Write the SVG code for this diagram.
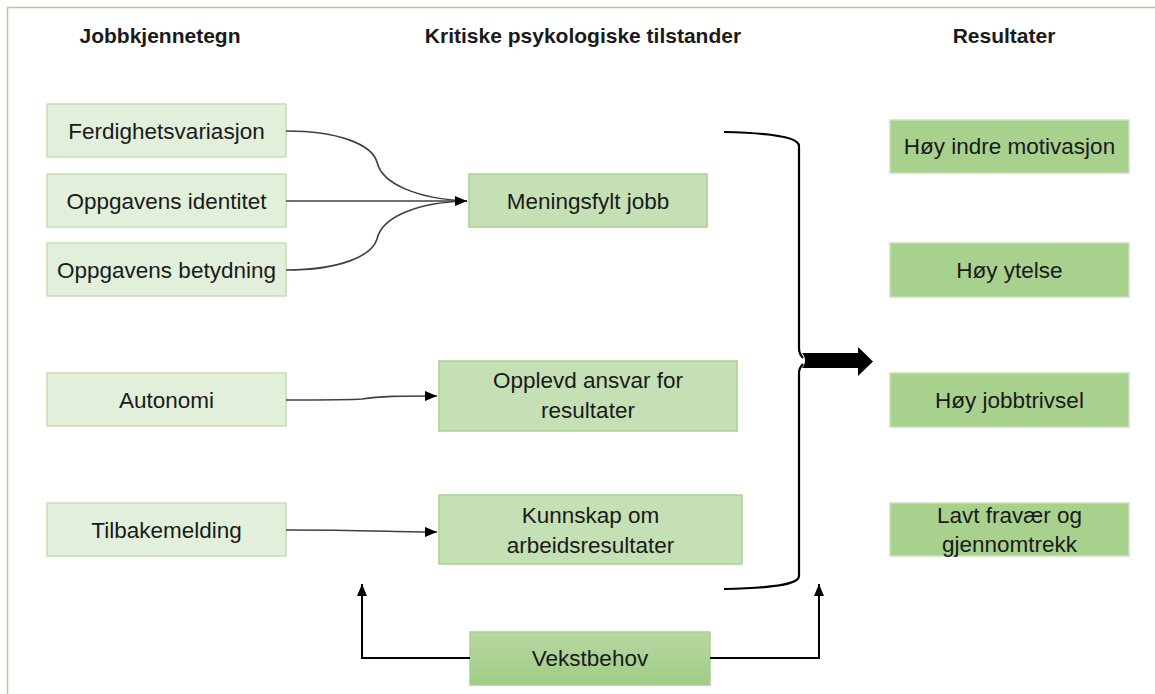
<svg xmlns="http://www.w3.org/2000/svg" width="1155" height="694" viewBox="0 0 1155 694">
<style>
text{font-family:"Liberation Sans",Arial,sans-serif;fill:#1a1a1a;text-anchor:middle}
.h{font-size:21px;font-weight:bold}
.t{font-size:22.5px}
.l rect{fill:#E2EFDA;stroke:#C5E0B4;stroke-width:1.5}
.m rect{fill:#C5E0B4;stroke:#A9D18E;stroke-width:1.5}
.r rect{fill:#A9D18E;stroke:#C9E2BA;stroke-width:1.5}
.c{fill:none;stroke:#404040;stroke-width:1.6}
.b{fill:none;stroke:#000;stroke-width:2.2}
</style>
<defs>
<marker id="ah" viewBox="0 0 12 10" refX="12" refY="5" markerWidth="12" markerHeight="10" markerUnits="userSpaceOnUse" orient="auto"><path d="M0,0 L12,5 L0,10 z" fill="#000"/></marker>
<linearGradient id="vg" x1="0" y1="0" x2="0" y2="1"><stop offset="0" stop-color="#B7D8A2"/><stop offset="1" stop-color="#A0CC86"/></linearGradient>
</defs>
<rect x="7.5" y="7.5" width="1160" height="700" fill="#fff" stroke="#A9D18E" stroke-width="1.5"/>
<g id="headers">
<text class="h" x="160" y="43">Jobbkjennetegn</text>
<text class="h" x="583" y="43">Kritiske psykologiske tilstander</text>
<text class="h" x="1004" y="43">Resultater</text>
</g>
<g id="n-ferdighet" class="l"><rect x="47" y="104" width="239" height="53"/><text class="t" x="166.5" y="138.5">Ferdighetsvariasjon</text></g>
<g id="n-identitet" class="l"><rect x="47" y="174" width="239" height="53"/><text class="t" x="166.5" y="208.5">Oppgavens identitet</text></g>
<g id="n-betydning" class="l"><rect x="47" y="243" width="239" height="53"/><text class="t" x="166.5" y="277.5">Oppgavens betydning</text></g>
<g id="n-autonomi" class="l"><rect x="47" y="373" width="239" height="53"/><text class="t" x="166.5" y="407.5">Autonomi</text></g>
<g id="n-tilbakemelding" class="l"><rect x="47" y="503" width="239" height="53"/><text class="t" x="166.5" y="537.5">Tilbakemelding</text></g>
<g id="n-meningsfylt" class="m"><rect x="469" y="174" width="238" height="53"/><text class="t" x="588" y="208.5">Meningsfylt jobb</text></g>
<g id="n-ansvar" class="m"><rect x="439" y="361" width="298" height="70"/><text class="t" x="588" y="388">Opplevd ansvar for</text><text class="t" x="588" y="418">resultater</text></g>
<g id="n-kunnskap" class="m"><rect x="439" y="495" width="303" height="69"/><text class="t" x="590.5" y="523">Kunnskap om</text><text class="t" x="590.5" y="553">arbeidsresultater</text></g>
<g id="n-motivasjon" class="r"><rect x="890" y="120" width="239" height="53"/><text class="t" x="1009.5" y="154">Høy indre motivasjon</text></g>
<g id="n-ytelse" class="r"><rect x="890" y="243" width="239" height="54"/><text class="t" x="1009.5" y="278">Høy ytelse</text></g>
<g id="n-trivsel" class="r"><rect x="890" y="373" width="239" height="54"/><text class="t" x="1009.5" y="408">Høy jobbtrivsel</text></g>
<g id="n-fravaer" class="r"><rect x="890" y="503" width="239" height="53"/><text class="t" x="1009.5" y="523">Lavt fravær og</text><text class="t" x="1009.5" y="552">gjennomtrekk</text></g>
<g id="n-vekstbehov"><rect x="470" y="632" width="240" height="53" fill="url(#vg)" stroke="#A9D18E" stroke-width="1.5"/><text class="t" x="590" y="666">Vekstbehov</text></g>
<g id="connectors">
<path class="c" d="M286,131 C340,131 372,145 377,162 C382,185 420,199 467,201"/>
<path class="c" d="M286,270 C340,270 372,256 377,239 C382,216 420,202 467,201"/>
<path class="c" d="M286,201 L467,201" marker-end="url(#ah)"/>
<path class="c" d="M286,400 C330,400 350,400 362,399 C380,396 400,396 437,396" marker-end="url(#ah)"/>
<path class="c" d="M286,530 C360,530 400,532 437,532" marker-end="url(#ah)"/>
<path class="b" d="M724,132 C770,133 799,137 799,146 L799,348 C799,354 801,356 803,358 M803,364 C801,366 799,368 799,373 L799,576 C799,585 770,588 724,589"/>
<path d="M802,353 L858,353 L858,347 L873,361.5 L858,376 L858,368 L802,368 C806,364 806,357 802,353 z" fill="#000"/>
<path class="b" style="stroke-width:2" d="M470,658 L362,658 L362,584" marker-end="url(#ah)"/>
<path class="b" style="stroke-width:2" d="M710,658 L819,658 L819,584" marker-end="url(#ah)"/>
</g>
</svg>
